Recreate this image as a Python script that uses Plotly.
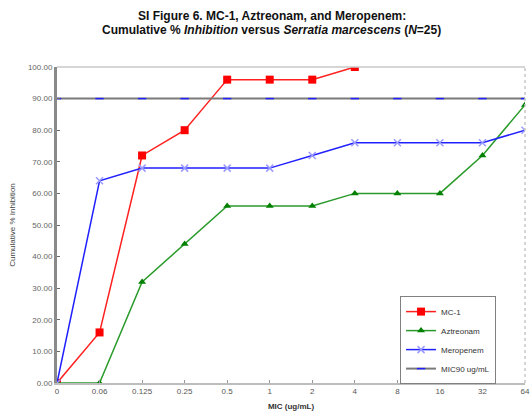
import plotly.graph_objects as go

# MIC dilution steps (ug/mL) and cumulative % of isolates inhibited
mic_labels = ["0", "0.06", "0.125", "0.25", "0.5", "1", "2", "4", "8", "16", "32", "64"]
mc1 = [0, 16, 72, 80, 96, 96, 96, 100]
aztreonam = [0, 0, 32, 44, 56, 56, 56, 60, 60, 60, 72, 88]
meropenem = [0, 64, 68, 68, 68, 68, 72, 76, 76, 76, 76, 80]
mic90 = [90] * len(mic_labels)
y_ticks = list(range(0, 101, 10))
y_tick_text = [f"{v:.2f}" for v in y_ticks]

FONT = "Liberation Sans, Arial, sans-serif"

fig = go.Figure()

fig.add_trace(go.Scatter(
    x=mic_labels[:len(mc1)], y=mc1, name="MC-1", mode="lines+markers",
    line=dict(color="#ff2020", width=1.5),
    marker=dict(symbol="square", size=8, color="#ff0000"),
))
fig.add_trace(go.Scatter(
    x=mic_labels, y=aztreonam, name="Aztreonam", mode="lines+markers",
    line=dict(color="#2a9a2a", width=1.5),
    marker=dict(symbol="triangle-up", size=7, color="#008000"),
))
fig.add_trace(go.Scatter(
    x=mic_labels, y=meropenem, name="Meropenem", mode="lines+markers",
    line=dict(color="#2020ff", width=1.5),
    marker=dict(symbol="x-thin", size=7, line=dict(color="#9a9aff", width=1.5)),
))
fig.add_trace(go.Scatter(
    x=mic_labels, y=mic90, name="MIC90 ug/mL", mode="lines+markers",
    line=dict(color="#7a7a7a", width=2),
    marker=dict(symbol="line-ew", size=6, line=dict(color="#2020ff", width=1.5)),
))

fig.update_layout(
    width=530, height=412,
    margin=dict(l=57, r=5, t=67, b=29, autoexpand=False),
    paper_bgcolor="white", plot_bgcolor="white",
    font=dict(family=FONT, size=8, color="#333333"),
    showlegend=True,
    legend=dict(
        x=0.733, y=0.275, xanchor="left", yanchor="top",
        bgcolor="white", bordercolor="#808080", borderwidth=1,
        font=dict(size=8, color="#333333"),
        itemwidth=30, tracegroupgap=0,
    ),
    xaxis=dict(
        type="category", categoryorder="array", categoryarray=mic_labels,
        range=[0, len(mic_labels) - 1],
        showgrid=False, zeroline=False,
        showline=True, linecolor="#bdbdbd", linewidth=1.5,
        ticks="inside", ticklen=3, tickcolor="#9a9a9a",
        tickfont=dict(size=8, color="#555555"),
        title=dict(text="<b>MIC (ug/mL)</b>", font=dict(size=8, color="#333333"), standoff=8),
    ),
    yaxis=dict(
        range=[0, 100], tickvals=y_ticks, ticktext=y_tick_text,
        showgrid=False, zeroline=False,
        showline=True, linecolor="#8a8a8a", linewidth=3,
        ticks="inside", ticklen=3, tickcolor="#6a6a6a",
        tickfont=dict(size=8, color="#666666"),
        title=dict(text="Cumulative % Inhibition", font=dict(size=8, color="#444444"), standoff=12),
    ),
    shapes=[
        dict(type="line", xref="paper", yref="paper", x0=0, x1=1, y0=1, y1=1,
             line=dict(color="#c8c8c8", width=1.5)),
        dict(type="line", xref="paper", yref="paper", x0=1, x1=1, y0=0, y1=1,
             line=dict(color="#c8c8c8", width=1.5, dash="dot")),
    ],
    annotations=[
        dict(text="<b>SI Figure 6. MC-1, Aztreonam, and Meropenem:</b>",
             xref="paper", yref="paper", x=(272 - 57) / 468, y=(383 - 16) / 316,
             showarrow=False, font=dict(family=FONT, size=12, color="#111111"),
             xanchor="center", yanchor="middle"),
        dict(text="<b>Cumulative % <i>Inhibition</i> versus <i>Serratia marcescens</i> (<i>N</i>=25)</b>",
             xref="paper", yref="paper", x=(271 - 57) / 468, y=(383 - 30) / 316,
             showarrow=False, font=dict(family=FONT, size=12, color="#111111"),
             xanchor="center", yanchor="middle"),
    ],
)

fig.write_html("out.html")
